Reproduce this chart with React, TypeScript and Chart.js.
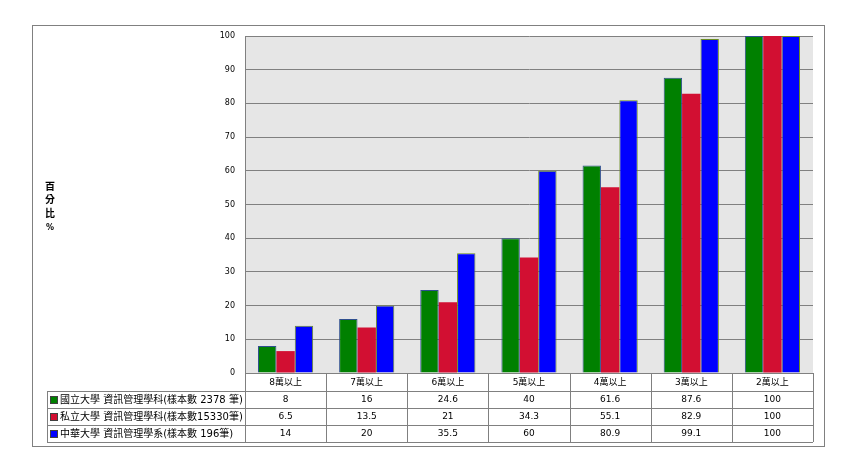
import React, { useEffect, useRef } from 'react';
import { Chart, registerables } from 'chart.js';

Chart.register(...registerables);

const categories = ['8萬以上', '7萬以上', '6萬以上', '5萬以上', '4萬以上', '3萬以上', '2萬以上'];
const seriesNames = [
  '國立大學 資訊管理學科(樣本數 2378 筆)',
  '私立大學 資訊管理學科(樣本數15330筆)',
  '中華大學 資訊管理學系(樣本數 196筆)',
];
const nationalValues = [8, 16, 24.6, 40, 61.6, 87.6, 100];
const privateValues = [6.5, 13.5, 21, 34.3, 55.1, 82.9, 100];
const chunghuaValues = [14, 20, 35.5, 60, 80.9, 99.1, 100];
const axisTitle = ['百', '分', '比', '%'];

const fills = ['#008000', '#d20f32', '#0000ff'];
const edges = ['#2f4f8f', '#d20f32', '#6b8e23'];

const FONT = '"DejaVu Sans", "Noto Sans CJK TC", sans-serif';
const CJK = '"DejaVu Sans", "Noto Sans CJK TC", sans-serif';

// background, outer frame, axis title and the data table under the plot
const tablePlugin = {
  id: 'tablePlugin',
  beforeDraw(chart: Chart) {
    const { ctx, chartArea } = chart;
    ctx.save();
    ctx.fillStyle = '#ffffff';
    ctx.fillRect(0, 0, chart.width, chart.height);
    ctx.fillStyle = '#e6e6e6';
    ctx.fillRect(chartArea.left, chartArea.top, chartArea.right - chartArea.left, chartArea.bottom - chartArea.top);
    ctx.restore();
  },
  afterDraw(chart: Chart) {
    const { ctx, chartArea } = chart;
    const values = chart.data.datasets.map((d) => d.data as number[]);
    ctx.save();
    ctx.strokeStyle = '#808080';
    ctx.lineWidth = 1;
    ctx.strokeRect(32.5, 25.5, 792, 421);

    // y axis title, one glyph per line
    ctx.fillStyle = '#000';
    ctx.font = 'bold 10px ' + CJK;
    ctx.textAlign = 'center';
    ctx.textBaseline = 'middle';
    axisTitle.forEach((t, i) => {
      ctx.font = (i < 3 ? 'bold 10px ' : 'bold 8px ') + CJK;
      ctx.fillText(t, 50, 187 + i * 13.5);
    });

    const left = chartArea.left;
    const right = chartArea.right;
    const top = chartArea.bottom;
    const colW = (right - left) / categories.length;
    const rowH = 17;
    const headH = 18;
    const legendLeft = 47;
    const bottom = top + headH + rowH * 3;

    ctx.beginPath();
    // header row
    ctx.moveTo(left, top + 0.5);
    ctx.lineTo(right, top + 0.5);
    for (let r = 0; r <= 3; r++) {
      const y = Math.round(top + headH + r * rowH) + 0.5;
      ctx.moveTo(legendLeft, y);
      ctx.lineTo(right, y);
    }
    ctx.moveTo(legendLeft + 0.5, top + headH);
    ctx.lineTo(legendLeft + 0.5, bottom);
    for (let c = 0; c <= categories.length; c++) {
      const x = Math.round(left + c * colW) + 0.5;
      ctx.moveTo(x, top);
      ctx.lineTo(x, bottom);
    }
    ctx.stroke();

    ctx.fillStyle = '#000';
    ctx.font = '9px ' + CJK;
    categories.forEach((c, i) => {
      ctx.fillText(c, left + colW * (i + 0.5), top + headH / 2 + 1);
    });
    for (let r = 0; r < 3; r++) {
      const cy = top + headH + rowH * (r + 0.5) + 0.5;
      ctx.fillStyle = fills[r];
      ctx.fillRect(50, cy - 4, 8, 8);
      ctx.strokeStyle = '#404040';
      ctx.strokeRect(50.5, cy - 3.5, 7, 7);
      ctx.fillStyle = '#000';
      ctx.textAlign = 'left';
      ctx.font = '10px ' + CJK;
      ctx.fillText(chart.data.datasets[r].label as string, 60, cy);
      ctx.textAlign = 'center';
      ctx.font = '9px ' + FONT;
      values[r].forEach((v, i) => {
        ctx.fillText(String(v), left + colW * (i + 0.5), cy);
      });
    }
    ctx.restore();
  },
};

const App: React.FC = () => {
  const canvasRef = useRef<HTMLCanvasElement | null>(null);

  useEffect(() => {
    if (!canvasRef.current) return;
    const ctx = canvasRef.current.getContext('2d');
    if (!ctx) return;

    const series = [nationalValues, privateValues, chunghuaValues];
    const chart = new Chart(ctx, {
      type: 'bar',
      data: {
        labels: categories,
        datasets: series.map((vals, i) => ({
          label: seriesNames[i],
          data: vals,
          backgroundColor: fills[i],
          borderColor: edges[i],
          borderWidth: i === 1 ? 0 : 1,
          barPercentage: 1,
          categoryPercentage: 0.68,
        })),
      },
      options: {
        responsive: true,
        maintainAspectRatio: false,
        animation: false,
        layout: { padding: { left: 0, top: 36, right: 53, bottom: 93 } },
        plugins: {
          legend: { display: false },
          tooltip: { enabled: false },
        },
        scales: {
          x: { display: false },
          y: {
            min: 0,
            max: 100,
            ticks: {
              stepSize: 10,
              color: '#000',
              padding: 10,
              font: { family: 'DejaVu Sans', size: 8 },
            },
            grid: { color: '#808080', drawTicks: false, tickLength: 0 },
            border: { display: true, color: '#808080' },
            afterFit: (scale: any) => {
              scale.width = 245;
            },
          },
        },
      },
      plugins: [tablePlugin],
    });

    return () => {
      chart.destroy();
    };
  }, []);

  return (
    <div style={{ position: 'fixed', left: 0, top: 0, width: 866, height: 466, background: '#fff' }}>
      <canvas ref={canvasRef} />
    </div>
  );
};

export default App;
